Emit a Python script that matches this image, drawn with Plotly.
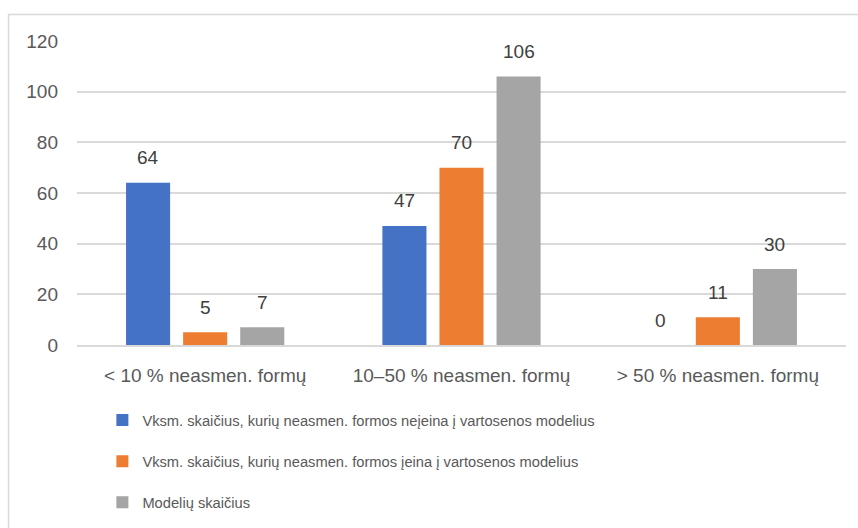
import plotly.graph_objects as go

categories = ["< 10 % neasmen. formų", "10–50 % neasmen. formų", "> 50 % neasmen. formų"]
series_names = [
    "Vksm. skaičius, kurių neasmen. formos neįeina į vartosenos modelius",
    "Vksm. skaičius, kurių neasmen. formos įeina į vartosenos modelius",
    "Modelių skaičius",
]
values_not_in = [64, 47, 0]
values_in = [5, 70, 11]
values_models = [7, 106, 30]
colors = ["#4472C4", "#ED7D31", "#A5A5A5"]

series_values = [values_not_in, values_in, values_models]
FONT = "Liberation Sans"
TXT = "#595959"

fig = go.Figure()
for i, (name, vals, col) in enumerate(zip(series_names, series_values, colors)):
    fig.add_trace(go.Bar(x=categories, y=vals, name=name, marker_color=col,
                         marker_line_width=0, legendgroup=str(i)))

shifts = [-57, 0, 57]
annotations = []
for vals, xs in zip(series_values, shifts):
    for c, v in zip(categories, vals):
        annotations.append(dict(x=c, y=v, xref="x", yref="y", text=str(v), showarrow=False,
                                xshift=xs, yshift=25, yanchor="middle",
                                font=dict(family=FONT, size=19, color="#404040")))

fig.update_layout(
    width=858, height=528,
    margin=dict(l=77, r=12, t=41, b=183, autoexpand=False),
    paper_bgcolor="white", plot_bgcolor="white",
    barmode="group", bargap=0.332, bargroupgap=0.228,
    font=dict(family=FONT, size=19, color=TXT),
    annotations=annotations,
    showlegend=True,
    legend=dict(orientation="v", x=0.033, xanchor="left", y=-0.194, yanchor="top",
                tracegroupgap=19,
                font=dict(family=FONT, size=14.7, color=TXT),
                bgcolor="rgba(0,0,0,0)"),
    shapes=[dict(type="rect", xref="paper", yref="paper", x0=-0.089, x1=1.2, y0=-1.0, y1=1.087,
                 line=dict(color="#D9D9D9", width=1.5), fillcolor="rgba(0,0,0,0)", layer="below")],
)
fig.update_xaxes(showgrid=False, showline=True, linecolor="#D9D9D9", linewidth=1.5,
                 tickfont=dict(family=FONT, size=19, color=TXT), ticks="", ticklabelstandoff=12)
fig.update_yaxes(range=[0, 120], dtick=20, showgrid=True, gridcolor="#D9D9D9", gridwidth=1.5,
                 zeroline=False, showline=False, ticks="",
                 tickfont=dict(family=FONT, size=19, color=TXT), ticklabelstandoff=18)

fig.write_html("out.html", config={"displayModeBar": False},
               post_script="document.body.style.margin='0';document.body.style.overflow='hidden';")
